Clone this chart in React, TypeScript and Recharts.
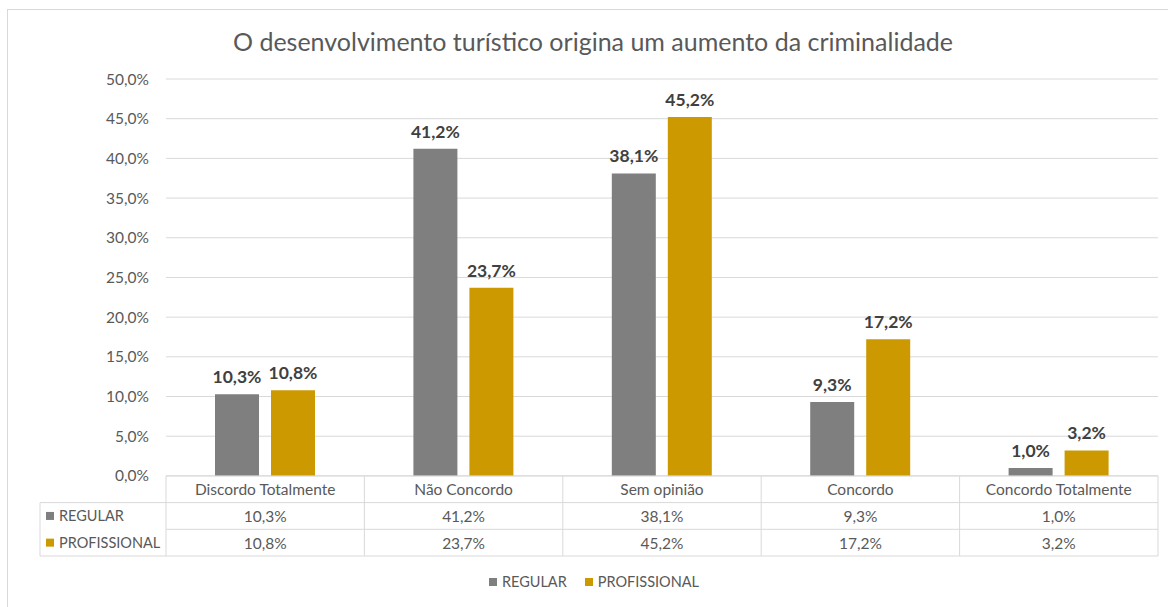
import { BarChart, Bar, XAxis, YAxis, CartesianGrid, LabelList, Legend } from "recharts";

const categories = ["Discordo Totalmente", "Não Concordo", "Sem opinião", "Concordo", "Concordo Totalmente"];
const regular = [10.3, 41.2, 38.1, 9.3, 1.0];
const profissional = [10.8, 23.7, 45.2, 17.2, 3.2];
const yTicks = [0, 5, 10, 15, 20, 25, 30, 35, 40, 45, 50];

const series = [
  { key: "regular", name: "REGULAR", color: "#7F7F7F", values: regular },
  { key: "profissional", name: "PROFISSIONAL", color: "#CC9900", values: profissional },
];

const data = categories.map((name, i) => ({ name, regular: regular[i], profissional: profissional[i] }));

const FONT = "Lato, 'Open Sans', sans-serif";
const TEXT = "#595959";
const LINE = "#D9D9D9";
const PLOT_LEFT = 166;
const PLOT_RIGHT = 1158;
const BAND = (PLOT_RIGHT - PLOT_LEFT) / categories.length;
const ROW = 26.7;
const LABEL_COL = 126;

const fmt = (v: number) => v.toFixed(1).replace(".", ",") + "%";

function TableTick(props: any) {
  const { x, y, payload, index } = props;
  const left = x - BAND / 2;
  const right = x + BAND / 2;
  const bottom = y + ROW * 3;
  return (
    <g fontFamily={FONT} fontSize={15.5} fill={TEXT}>
      <line x1={left} y1={y} x2={left} y2={bottom} stroke={LINE} />
      {index === categories.length - 1 && <line x1={right} y1={y} x2={right} y2={bottom} stroke={LINE} />}
      {[1, 2, 3].map((r) => (
        <line key={r} x1={left} y1={y + ROW * r} x2={right} y2={y + ROW * r} stroke={LINE} />
      ))}
      <text x={x} y={y + ROW / 2} textAnchor="middle" dominantBaseline="central">{payload.value}</text>
      {series.map((s, r) => (
        <text key={s.key} x={x} y={y + ROW * (r + 1.5)} textAnchor="middle" dominantBaseline="central">
          {fmt(s.values[index])}
        </text>
      ))}
      {index === 0 && (
        <g>
          <line x1={left - LABEL_COL} y1={y + ROW} x2={left} y2={y + ROW} stroke={LINE} />
          <line x1={left - LABEL_COL} y1={bottom} x2={left} y2={bottom} stroke={LINE} />
          <line x1={left - LABEL_COL} y1={y + ROW} x2={left - LABEL_COL} y2={bottom} stroke={LINE} />
          {series.map((s, r) => (
            <g key={s.key}>
              <rect x={left - LABEL_COL + 6} y={y + ROW * (r + 1.5) - 4} width={8} height={8} fill={s.color} />
              <text x={left - LABEL_COL + 19} y={y + ROW * (r + 1.5)} dominantBaseline="central" fontSize={14.5}>
                {s.name}
              </text>
            </g>
          ))}
        </g>
      )}
    </g>
  );
}

function LegendContent() {
  return (
    <div
      style={{
        display: "flex",
        justifyContent: "center",
        gap: 18,
        fontFamily: FONT,
        fontSize: 14.5,
        color: TEXT,
        paddingLeft: 30,
        marginTop: 17,
      }}
    >
      {series.map((s) => (
        <span key={s.key} style={{ display: "flex", alignItems: "center", gap: 5 }}>
          <span style={{ width: 8, height: 8, background: s.color, display: "inline-block" }} />
          {s.name}
        </span>
      ))}
    </div>
  );
}

export default function App() {
  return (
    <div style={{ position: "absolute", left: 0, top: 0, width: 1168, height: 607, background: "#fff", overflow: "hidden" }}>
      <div
        style={{
          position: "absolute",
          left: 7,
          top: 9,
          width: 1200,
          height: 700,
          borderLeft: `1px solid ${LINE}`,
          borderTop: `1px solid ${LINE}`,
        }}
      />
      <div
        style={{
          position: "absolute",
          left: 0,
          top: 26,
          width: 1186,
          textAlign: "center",
          fontFamily: FONT,
          fontSize: 25,
          color: TEXT,
        }}
      >
        O desenvolvimento turístico origina um aumento da criminalidade
      </div>
      <div style={{ position: "absolute", left: 0, top: 0 }}>
        <BarChart
          width={1168}
          height={607}
          data={data}
          margin={{ top: 79, right: 1168 - PLOT_RIGHT, left: 0, bottom: 15 }}
          barCategoryGap="24.7%"
          barGap={12}
        >
          <CartesianGrid vertical={false} stroke={LINE} />
          <YAxis
            width={PLOT_LEFT}
            domain={[0, 50]}
            ticks={yTicks}
            tickFormatter={fmt}
            axisLine={false}
            tickLine={false}
            tickMargin={11}
            tick={{ fill: TEXT, fontSize: 15.5, fontFamily: FONT }}
          />
          <XAxis
            dataKey="name"
            height={ROW * 3}
            axisLine={{ stroke: LINE }}
            tickLine={false}
            tickSize={0}
            tickMargin={0}
            tick={<TableTick />}
            interval={0}
          />
          <Legend verticalAlign="bottom" height={36} content={<LegendContent />} wrapperStyle={{ height: 36 }} />
          {series.map((s) => (
            <Bar key={s.key} dataKey={s.key} name={s.name} fill={s.color} isAnimationActive={false}>
              <LabelList
                dataKey={s.key}
                position="top"
                offset={11}
                formatter={(v: any) => fmt(Number(v))}
                style={{ fill: "#404040", fontSize: 17.5, fontWeight: 700, fontFamily: FONT }}
              />
            </Bar>
          ))}
        </BarChart>
      </div>
    </div>
  );
}
